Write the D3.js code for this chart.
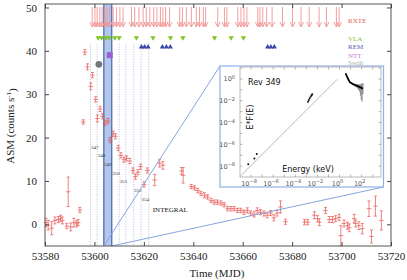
<!DOCTYPE html>
<html>
<head>
<meta charset="utf-8">
<script src="https://cdn.jsdelivr.net/npm/d3@7"></script>
<style>
body { margin: 0; background: #fff; }
svg text { font-family: "Liberation Serif", "Times New Roman", serif; }
svg text.sans { font-family: "DejaVu Sans", "Liberation Sans", sans-serif; }
</style>
</head>
<body>
<svg id="chart" width="407" height="280"></svg>
<script>
// ASM light curve (MJD, counts/s, 1 sigma)
var asmMjd = [53580.4, 53581.3, 53582.7, 53584.0, 53585.4, 53586.3, 53587.0, 53588.8, 53589.4, 53590.4,
    53591.7, 53592.8, 53593.4, 53594.1, 53595.5, 53596.1, 53597.2, 53598.5, 53599.2, 53600.5,
    53601.2, 53602.3, 53603.2, 53604.2, 53605.5, 53606.3, 53607.6, 53608.5, 53609.6, 53610.7,
    53611.9, 53613.0, 53614.3, 53615.6, 53616.6, 53617.6, 53618.7, 53620.1, 53621.4, 53624.4,
    53626.4, 53627.7, 53635.3, 53635.9, 53639.2, 53640.5, 53641.8, 53643.1, 53644.5, 53645.8,
    53647.2, 53648.5, 53649.8, 53651.2, 53652.5, 53653.9, 53655.2, 53656.5, 53657.9, 53659.2,
    53660.5, 53661.9, 53663.2, 53664.6, 53665.9, 53667.2, 53668.6, 53669.9, 53671.3, 53672.6,
    53673.9, 53675.3, 53677.3, 53685.0, 53686.3, 53689.0, 53690.3, 53691.0, 53693.5, 53695.0,
    53696.3, 53697.6, 53699.0, 53699.7, 53701.0, 53702.4, 53703.1, 53705.1, 53705.7, 53707.0,
    53708.4, 53711.1, 53712.1, 53713.7, 53716.1];
var asmRate = [0.4, -0.2, -0.9, 0.9, 1.1, 1.4, 0.9, -0.4, 7.5, -0.6,
    0.4, 0.1, 0.4, 3.3, 23.6, 39.7, 36.3, 31.8, 34.4, 28.8,
    24.4, 26.6, 24.9, 23.4, 23.8, 19.4, 20.9, 20.3, 17.6, 15.9,
    14.9, 15.2, 14.6, 12.4, 11.0, 12.0, 13.3, 9.2, 12.4, 10.2,
    14.1, 13.6, 12.3, 11.3, 8.7, 8.4, 7.8, 7.1, 6.7, 6.3,
    5.5, 5.1, 5.1, 4.9, 4.5, 3.6, 3.6, 3.6, 3.2, 3.2,
    2.8, 3.2, 2.6, 2.3, 3.2, 2.8, 2.5, 2.1, 2.6, 1.5,
    2.6, 4.0, 0.6, 0.5, 0.5, 2.1, 1.3, 0.5, 3.2, 1.1,
    1.1, 1.3, 1.6, -2.6, 0.2, -0.3, -0.8, 1.3, 0.2, -0.3,
    -1.0, 3.6, -2.8, 4.2, 0.9];
var asmErr = [1.0, 1.1, 1.5, 0.8, 0.7, 0.7, 0.8, 0.6, 3.4, 0.9,
    1.0, 0.7, 0.7, 0.6, 0.5, 0.6, 0.7, 0.8, 0.6, 0.6,
    0.8, 0.6, 0.6, 0.6, 0.6, 0.6, 0.6, 0.6, 0.6, 0.6,
    0.6, 0.6, 0.6, 0.6, 0.6, 0.6, 0.6, 0.6, 0.6, 1.3,
    0.9, 0.9, 0.8, 1.8, 0.5, 0.5, 0.5, 0.5, 0.6, 0.5,
    0.5, 0.5, 0.5, 0.5, 0.5, 0.5, 0.5, 0.5, 0.5, 0.5,
    0.5, 0.6, 0.5, 0.6, 0.6, 0.6, 0.6, 0.6, 0.6, 0.7,
    0.7, 1.4, 0.6, 0.6, 0.6, 0.8, 0.7, 0.8, 0.7, 0.7,
    0.7, 0.7, 0.7, 2.3, 0.8, 0.8, 0.9, 1.0, 0.8, 0.9,
    1.2, 1.8, 1.5, 2.3, 2.2];
var asmBin = 0.9;

// observation epochs
var rxteMjd = [53599.1, 53600.2, 53601.1, 53602.2, 53603.1, 53604.2, 53605.1, 53606.2, 53607.6, 53608.9,
    53610.3, 53611.6, 53615.0, 53616.3, 53618.0, 53619.7, 53621.0, 53622.4, 53624.0, 53625.3,
    53626.7, 53627.7, 53628.8, 53630.4, 53634.5, 53635.6, 53637.2, 53639.2, 53641.2, 53642.5,
    53644.1, 53645.0, 53649.9, 53652.6, 53653.6, 53658.0, 53659.3, 53660.5, 53661.7, 53666.1,
    53667.0, 53668.1, 53669.7, 53671.9, 53676.1, 53680.2, 53683.6, 53686.9, 53690.9, 53693.9,
    53697.9, 53699.0];
var vlaMjd = [53601.5, 53602.9, 53604.6, 53605.9, 53608.2, 53610.0, 53617.0, 53623.7, 53630.8, 53635.8,
    53648.6, 53655.3, 53660.3];
var remMjd = [53619.0, 53620.3, 53621.7, 53627.5, 53629.1, 53630.7, 53670.1, 53671.4, 53672.8];
var nttMjd = [53606.2];
var swiftMjd = [53601.8];

// INTEGRAL revolutions
var revStarts = [53598.4, 53601.1, 53603.8, 53607.0, 53610.0, 53612.7, 53615.9, 53618.9, 53622.0];
var revLabels = ["347", "348", "349", "350", "351", "352", "354"];
var revLabelMjd = [53598.6, 53601.3, 53604.0, 53607.2, 53610.2, 53616.0, 53619.0];
var revLabelRate = [17.8, 16.0, 13.9, 11.8, 10.0, 7.9, 5.8];
var bandMjd = [53603.8, 53607.0];

// inset spectrum, rev 349 (keV, E*F(E))
var radioE = [5.6e-9, 2.0e-8, 3.3e-8];
var radioF = [1.5e-8, 4.9e-8, 1.26e-7];
var optE = [1.4e-3, 1.7e-3, 2.0e-3, 2.5e-3, 3.0e-3, 3.4e-3];
var optF = [8e-3, 1.2e-2, 1.7e-2, 2.4e-2, 3.2e-2, 4e-2];
var xrE = [3.5, 4.2, 5.0, 6.0, 7.2, 8.6, 10.3, 12.4, 14.8, 17.8, 21.3, 25.6, 30.7, 36.8, 44.2, 53, 63.6, 76.3, 91.6, 110, 132];
var xrF = [3.3, 2.2, 1.5, 1.0, 0.71, 0.52, 0.44, 0.40, 0.35, 0.33, 0.30, 0.28, 0.25, 0.24, 0.22, 0.20, 0.19, 0.17, 0.16, 0.14, 0.13];
var xrLo = [3.0, 2.0, 1.4, 0.92, 0.65, 0.47, 0.39, 0.35, 0.30, 0.27, 0.24, 0.21, 0.18, 0.16, 0.13, 0.10, 0.07, 0.03, 0.012, 0.008, 0.04];
var xrHi = [3.6, 2.4, 1.6, 1.08, 0.77, 0.57, 0.49, 0.45, 0.41, 0.39, 0.37, 0.36, 0.34, 0.33, 0.32, 0.31, 0.32, 0.33, 0.36, 0.40, 0.42];
var modelE = [1e-9, 0.6];
var modelF = [1.1e-9, 0.9];

var xTicks = [53580, 53600, 53620, 53640, 53660, 53680, 53700, 53720];
var yTicks = [0, 10, 20, 30, 40, 50];

var svg = d3.select("#chart");
var x = d3.scaleLinear().domain([53580, 53720]).range([45, 391]);
var y = d3.scaleLinear().domain([-5, 50.8]).range([246, 4]);
var plotTop = y.range()[1], plotBottom = y.range()[0];

// shaded revolution 349
svg.append("rect")
    .attr("x", x(bandMjd[0])).attr("y", plotTop)
    .attr("width", x(bandMjd[1]) - x(bandMjd[0])).attr("height", plotBottom - plotTop)
    .attr("fill", "#b4c6ea");

// revolution boundaries
svg.selectAll(".rev").data(revStarts).enter().append("line")
    .attr("x1", d => x(d)).attr("x2", d => x(d))
    .attr("y1", y(41.6)).attr("y2", plotBottom)
    .attr("stroke", "#a4a4e0").attr("stroke-width", 0.8)
    .attr("stroke-dasharray", "1,1.5");

svg.selectAll(".bandEdge").data(bandMjd).enter().append("line")
    .attr("x1", d => x(d)).attr("x2", d => x(d))
    .attr("y1", plotTop).attr("y2", plotBottom)
    .attr("stroke", "#4f72b8").attr("stroke-width", 1.3);

svg.selectAll(".revlab").data(revLabels).enter().append("text")
    .attr("x", (d, i) => x(revLabelMjd[i]))
    .attr("y", (d, i) => y(revLabelRate[i]))
    .attr("dy", "0.35em")
    .style("font-size", "5px").attr("fill", "#333")
    .text(d => d);

svg.append("text")
    .attr("x", x(53623.6)).attr("y", y(3.5)).attr("dy", "0.35em")
    .style("font-size", "7px").attr("fill", "#111")
    .text("INTEGRAL");

// ASM points
var pts = svg.append("g")
    .attr("stroke", "#e8504c").attr("stroke-width", 0.9).attr("opacity", 0.8);
asmMjd.forEach(function (m, i) {
    var cx = x(m), cy = y(asmRate[i]);
    var y0 = y(asmRate[i] - asmErr[i]), y1 = y(asmRate[i] + asmErr[i]);
    pts.append("line").attr("x1", cx).attr("x2", cx).attr("y1", y0).attr("y2", y1);
    pts.append("line").attr("x1", cx - 1.5).attr("x2", cx + 1.5).attr("y1", y0).attr("y2", y0);
    pts.append("line").attr("x1", cx - 1.5).attr("x2", cx + 1.5).attr("y1", y1).attr("y2", y1);
    pts.append("line").attr("x1", x(m - asmBin)).attr("x2", x(m + asmBin)).attr("y1", cy).attr("y2", cy);
});

// zoom lines from band to inset
var ins = {x0: 220, y0: 66, x1: 383.5, y1: 187};
svg.append("line").attr("x1", x(bandMjd[0])).attr("y1", plotBottom)
    .attr("x2", ins.x0).attr("y2", ins.y0)
    .attr("stroke", "#86a6e0").attr("stroke-width", 1);
svg.append("line").attr("x1", x(bandMjd[1])).attr("y1", plotBottom)
    .attr("x2", ins.x1).attr("y2", ins.y1)
    .attr("stroke", "#86a6e0").attr("stroke-width", 1);

// observation markers
var rows = {rxteTop: 50.1, rxteBot: 45.5, vla: 42.9, rem: 41.0, ntt: 39.0, swift: 36.9};
var arr = svg.append("g").attr("stroke", "#f29494").attr("stroke-width", 0.9).attr("fill", "none");
rxteMjd.forEach(function (m) {
    var ax = x(m), yb = y(rows.rxteBot);
    arr.append("line").attr("x1", ax).attr("x2", ax).attr("y1", y(rows.rxteTop)).attr("y2", yb);
    arr.append("path").attr("d", "M" + (ax - 2.5) + "," + (yb - 5) + "L" + ax + "," + yb + "L" + (ax + 2.5) + "," + (yb - 5));
});

svg.selectAll(".vla").data(vlaMjd).enter().append("path")
    .attr("d", d => { var cx = x(d), cy = y(rows.vla); return "M" + (cx - 2.6) + "," + (cy - 2) + "L" + (cx + 2.6) + "," + (cy - 2) + "L" + cx + "," + (cy + 2.4) + "Z"; })
    .attr("fill", "#7cc422");

svg.selectAll(".rem").data(remMjd).enter().append("path")
    .attr("d", d => { var cx = x(d), cy = y(rows.rem); return "M" + (cx - 2.6) + "," + (cy + 2) + "L" + (cx + 2.6) + "," + (cy + 2) + "L" + cx + "," + (cy - 2.4) + "Z"; })
    .attr("fill", "#3b47a8");

svg.selectAll(".ntt").data(nttMjd).enter().append("rect")
    .attr("x", d => x(d) - 3).attr("y", y(rows.ntt) - 3)
    .attr("width", 6).attr("height", 6).attr("fill", "#9a5fcf");

svg.selectAll(".swift").data(swiftMjd).enter().append("circle")
    .attr("cx", d => x(d)).attr("cy", y(rows.swift)).attr("r", 3.4).attr("fill", "#767676");

var legend = [["RXTE", 46.9, "#e65b5b"], ["VLA", 42.9, "#86c83a"], ["REM", 41.1, "#5a5ab8"],
    ["NTT", 39.0, "#c77ad8"], ["Swift", 37.2, "#a8a8a8"]];
svg.selectAll(".leg").data(legend).enter().append("text")
    .attr("x", 348).attr("y", d => y(d[1])).attr("dy", "0.35em")
    .style("font-size", "7px").attr("fill", d => d[2])
    .text(d => d[0]);

// inset spectrum
var ix = d3.scaleLog().domain([1e-9, Math.pow(10, 3.75)]).range([240, 381]);
var iy = d3.scaleLog().domain([1e-9, Math.pow(10, 1.1)]).range([177, 67]);
svg.append("rect").attr("x", ins.x0).attr("y", ins.y0)
    .attr("width", ins.x1 - ins.x0).attr("height", ins.y1 - ins.y0)
    .attr("fill", "#fff").attr("stroke", "#8fb0e6").attr("stroke-width", 1.2);
var gi = svg.append("g");
gi.append("rect").attr("x", 240).attr("y", 67).attr("width", 141).attr("height", 110)
    .attr("fill", "none").attr("stroke", "#aaa").attr("stroke-width", 0.8);

var decX = d3.range(-8, 4), decY = d3.range(-8, 2);
decX.forEach(function (k) {
    var px = ix(Math.pow(10, k));
    gi.append("line").attr("x1", px).attr("x2", px).attr("y1", 177).attr("y2", 174.5).attr("stroke", "#888").attr("stroke-width", 0.6);
    gi.append("line").attr("x1", px).attr("x2", px).attr("y1", 67).attr("y2", 69.5).attr("stroke", "#888").attr("stroke-width", 0.6);
});
decY.forEach(function (k) {
    var py = iy(Math.pow(10, k));
    gi.append("line").attr("x1", 240).attr("x2", 242.5).attr("y1", py).attr("y2", py).attr("stroke", "#888").attr("stroke-width", 0.6);
    gi.append("line").attr("x1", 381).attr("x2", 378.5).attr("y1", py).attr("y2", py).attr("stroke", "#888").attr("stroke-width", 0.6);
});

function powLabel(sel, k) {
    sel.append("tspan").text("10");
    sel.append("tspan").attr("dy", "-0.45em").style("font-size", "5px").text(k < 0 ? "\u2212" + (-k) : String(k));
}
[-8, -6, -4, -2, 0, 2].forEach(function (k) {
    var t = gi.append("text").attr("class", "sans").attr("x", ix(Math.pow(10, k)) - 2).attr("y", 185.5)
        .attr("text-anchor", "middle").style("font-size", "6.5px").attr("fill", "#555");
    powLabel(t, k);
});
[0, -2, -4, -6, -8].forEach(function (k) {
    var t = gi.append("text").attr("class", "sans").attr("x", 235).attr("y", iy(Math.pow(10, k)) + 2.5)
        .attr("text-anchor", "end").style("font-size", "6.5px").attr("fill", "#555");
    powLabel(t, k);
});

var line = d3.line().x(d => ix(d[0])).y(d => iy(d[1]));
gi.append("path").attr("d", line(d3.zip(modelE, modelF)))
    .attr("stroke", "#999").attr("stroke-width", 0.7).attr("fill", "none");

gi.selectAll(".rad").data(d3.zip(radioE, radioF)).enter().append("circle")
    .attr("cx", d => ix(d[0])).attr("cy", d => iy(d[1])).attr("r", 1).attr("fill", "#111");
gi.selectAll(".opt").data(d3.zip(optE, optF)).enter().append("circle")
    .attr("cx", d => ix(d[0])).attr("cy", d => iy(d[1])).attr("r", 1).attr("fill", "#111");

xrE.forEach(function (e, i) {
    gi.append("line").attr("x1", ix(e)).attr("x2", ix(e)).attr("y1", iy(xrLo[i])).attr("y2", iy(xrHi[i]))
        .attr("stroke", "#444").attr("stroke-width", 0.6);
});
gi.append("path").attr("d", line(d3.zip(xrE, xrF)))
    .attr("stroke", "#000").attr("stroke-width", 1.8).attr("fill", "none");

gi.append("text").attr("class", "sans").attr("x", 248).attr("y", 84.5)
    .style("font-size", "8px").attr("fill", "#111").text("Rev 349");
gi.append("text").attr("class", "sans").attr("x", 308).attr("y", 172)
    .attr("text-anchor", "middle").style("font-size", "8px").attr("fill", "#111").text("Energy (keV)");
gi.append("text").attr("class", "sans")
    .attr("transform", "translate(253,117) rotate(-90)")
    .attr("text-anchor", "middle").style("font-size", "8px").attr("fill", "#111").text("E*F(E)");

// frame and axes
svg.append("rect").attr("x", 45).attr("y", plotTop).attr("width", 346).attr("height", plotBottom - plotTop)
    .attr("fill", "none").attr("stroke", "#555").attr("stroke-width", 1);

var xAxis = svg.append("g").attr("transform", "translate(0," + plotBottom + ")")
    .call(d3.axisBottom(x).tickValues(xTicks).tickSize(-4).tickPadding(6).tickFormat(d3.format("d")));
var xTop = svg.append("g").attr("transform", "translate(0," + plotTop + ")")
    .call(d3.axisTop(x).tickValues(xTicks).tickSize(-4).tickFormat(""));
var yAxis = svg.append("g").attr("transform", "translate(45,0)")
    .call(d3.axisLeft(y).tickValues(yTicks).tickSize(-4).tickPadding(8));
var yRight = svg.append("g").attr("transform", "translate(391,0)")
    .call(d3.axisRight(y).tickValues(yTicks).tickSize(-4).tickFormat(""));
[xAxis, xTop, yAxis, yRight].forEach(function (a) {
    a.select(".domain").remove();
    a.selectAll("line").attr("stroke", "#444");
    a.selectAll("text").style("font-family", "Liberation Serif, serif").style("font-size", "11px").attr("fill", "#222");
});

svg.append("text").attr("x", 217).attr("y", 277)
    .attr("text-anchor", "middle").style("font-size", "11px").attr("fill", "#222")
    .text("Time (MJD)");

var yl = svg.append("text").attr("transform", "translate(14,126) rotate(-90)")
    .attr("text-anchor", "middle").style("font-size", "11px").attr("fill", "#222");
yl.append("tspan").text("ASM (counts s");
yl.append("tspan").attr("dy", "-0.4em").style("font-size", "7px").text("-1");
yl.append("tspan").attr("dy", "0.4em").text(")");
</script>
</body>
</html>
